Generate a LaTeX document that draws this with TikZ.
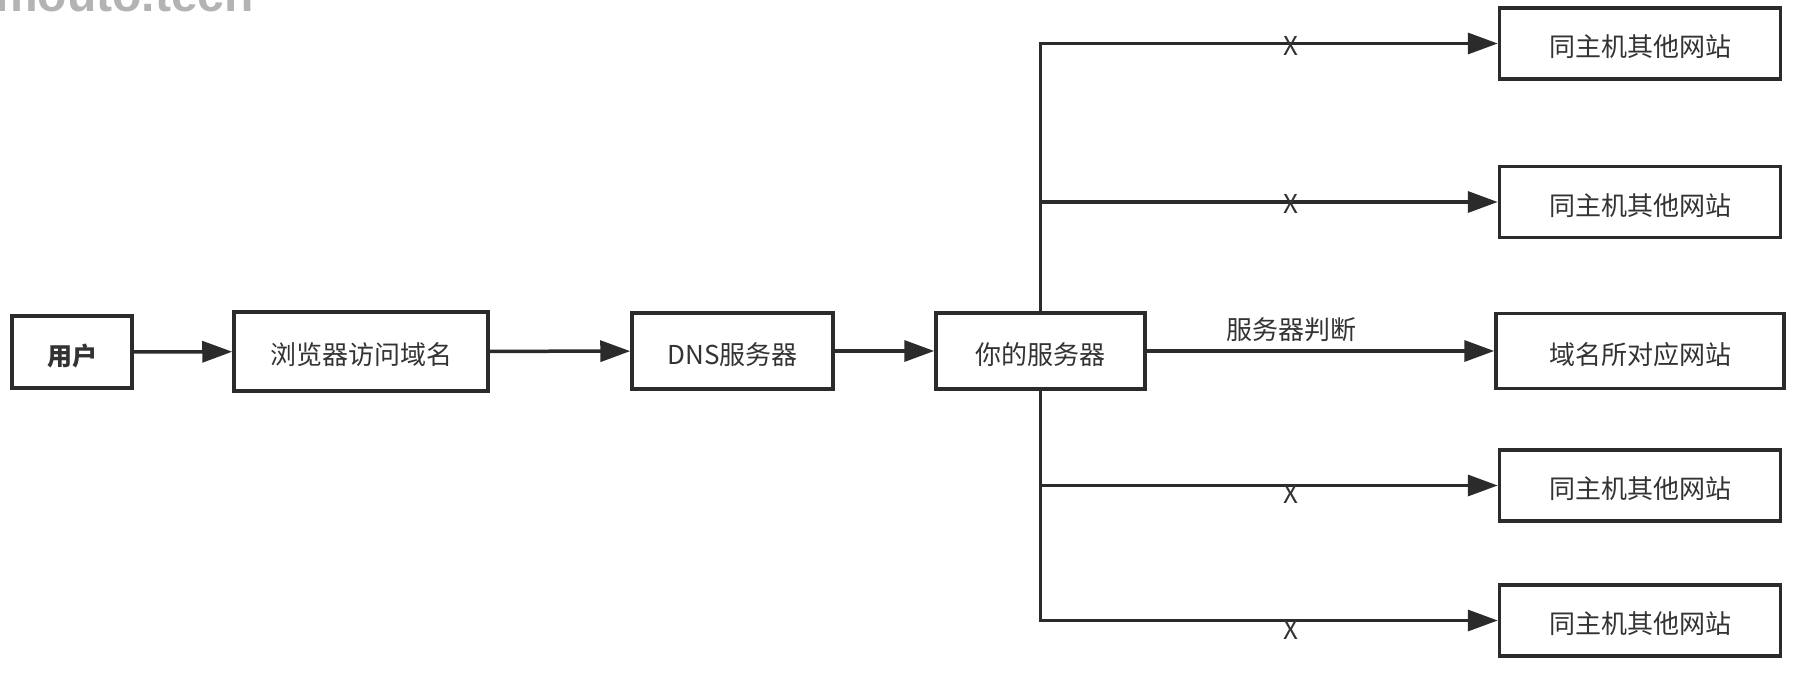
\documentclass[tikz,border=0pt]{standalone}
\usepackage{fontspec}
\setmainfont{Noto Sans CJK SC}
\newfontfamily\wmfont{Liberation Sans}
\usetikzlibrary{arrows.meta}
\definecolor{ink}{HTML}{2B2B2B}
\definecolor{txt}{HTML}{333333}
\definecolor{wm}{HTML}{B3B3B3}
\tikzset{
  box/.style={draw=ink, line width=3.5pt, fill=white, inner sep=0pt, text=txt, font=\fontsize{26}{30}\selectfont, text height=26pt, text depth=0pt},
  conn/.style={draw=ink, line width=3.5pt, -{Triangle[length=30pt,width=21pt]}},
  lbl/.style={text=txt, font=\fontsize{26}{30}\selectfont, inner sep=0pt},
}
\begin{document}
\begin{tikzpicture}[x=1pt,y=-1pt]
\useasboundingbox (0,0) rectangle (1799,682);
\node[anchor=base west, text=wm, font=\wmfont\bfseries\fontsize{48}{52}\selectfont, inner sep=0pt] (wmk) at (-5,12) {mouto.tech};
\node[box, minimum width=120pt, minimum height=72pt, font=\bfseries\fontsize{25}{28}\selectfont] (user) at (72,352) {用户};
\node[box, minimum width=254pt, minimum height=79pt] (browser) at (361,351.5) {浏览器访问域名};
\node[box, minimum width=201pt, minimum height=76pt] (dns) at (732.5,351) {DNS服务器};
\node[box, minimum width=209pt, minimum height=76pt] (srv) at (1040.5,351) {你的服务器};
\node[box, minimum width=281pt, minimum height=71pt] (t1) at (1640,43.5) {同主机其他网站};
\node[box, minimum width=281pt, minimum height=71pt] (t2) at (1640,202) {同主机其他网站};
\node[box, minimum width=288pt, minimum height=75pt] (t3) at (1640,351) {域名所对应网站};
\node[box, minimum width=281pt, minimum height=71pt] (t4) at (1640,485.5) {同主机其他网站};
\node[box, minimum width=281pt, minimum height=71pt] (t5) at (1640,620.5) {同主机其他网站};
\draw[conn] (user) -- (browser);
\draw[conn] (browser) -- (dns);
\draw[conn] (dns) -- (srv);
\draw[conn] (srv) -- (t3);
\draw[conn] (srv.north) |- (t1.west);
\draw[conn] (srv.north) |- (t2.west);
\draw[conn] (srv.south) |- (t4.west);
\draw[conn] (srv.south) |- (t5.west);
\node[lbl] (x1) at (1291,46) {X};
\node[lbl] (x2) at (1291,204) {X};
\node[lbl] (jd) at (1291,330) {服务器判断};
\node[lbl] (x4) at (1291,494) {X};
\node[lbl] (x5) at (1291,630) {X};
\end{tikzpicture}
\end{document}
